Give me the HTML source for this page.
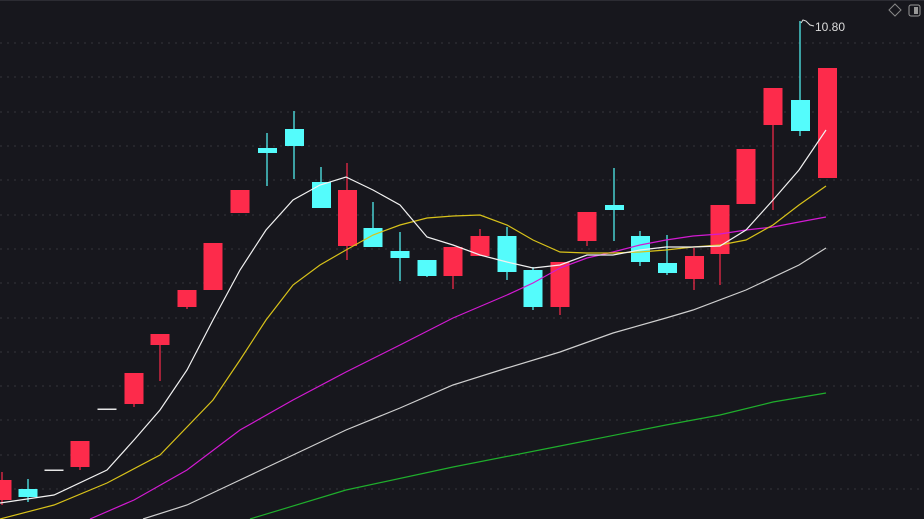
<!DOCTYPE html><html><head><style>body{margin:0;background:#17171d;}svg{display:block}</style></head><body>
<svg width="924" height="519" xmlns="http://www.w3.org/2000/svg">
<rect width="924" height="519" fill="#17171d"/>
<line x1="0" y1="0.5" x2="924" y2="0.5" stroke="#2c2c33"/>
<g stroke="#34343b" stroke-dasharray="2,5">
<line x1="0" y1="43" x2="924" y2="43"/><line x1="0" y1="77" x2="924" y2="77"/><line x1="0" y1="112" x2="924" y2="112"/><line x1="0" y1="146" x2="924" y2="146"/><line x1="0" y1="180" x2="924" y2="180"/><line x1="0" y1="215" x2="924" y2="215"/><line x1="0" y1="249" x2="924" y2="249"/><line x1="0" y1="283" x2="924" y2="283"/><line x1="0" y1="318" x2="924" y2="318"/><line x1="0" y1="352" x2="924" y2="352"/><line x1="0" y1="386" x2="924" y2="386"/><line x1="0" y1="420" x2="924" y2="420"/><line x1="0" y1="455" x2="924" y2="455"/><line x1="0" y1="489" x2="924" y2="489"/>
</g>
<g stroke-width="1.2">
<line x1="2" y1="472" x2="2" y2="505" stroke="#fd2b4b"/><rect x="-7.5" y="480" width="19" height="20" fill="#fd2b4b"/>
<line x1="28" y1="479" x2="28" y2="502" stroke="#54fcfc"/><rect x="18.5" y="489" width="19" height="8" fill="#54fcfc"/>
<rect x="44.5" y="469.5" width="19" height="1.5" fill="#e6e6e6"/>
<line x1="80" y1="441" x2="80" y2="470" stroke="#fd2b4b"/><rect x="70.5" y="441" width="19" height="26" fill="#fd2b4b"/>
<rect x="97.5" y="408.5" width="19" height="1.5" fill="#e6e6e6"/>
<line x1="134" y1="373" x2="134" y2="407" stroke="#fd2b4b"/><rect x="124.5" y="373" width="19" height="31" fill="#fd2b4b"/>
<line x1="160" y1="334" x2="160" y2="381" stroke="#fd2b4b"/><rect x="150.5" y="334" width="19" height="11" fill="#fd2b4b"/>
<line x1="187" y1="290" x2="187" y2="309" stroke="#fd2b4b"/><rect x="177.5" y="290" width="19" height="17" fill="#fd2b4b"/>
<rect x="203.5" y="243" width="19" height="47" fill="#fd2b4b"/>
<rect x="230.5" y="190" width="19" height="23" fill="#fd2b4b"/>
<line x1="267" y1="133" x2="267" y2="186" stroke="#54fcfc"/><rect x="258" y="148" width="19" height="5" fill="#54fcfc"/>
<line x1="294" y1="111" x2="294" y2="179" stroke="#54fcfc"/><rect x="285" y="129" width="19" height="17" fill="#54fcfc"/>
<line x1="321" y1="167" x2="321" y2="208" stroke="#54fcfc"/><rect x="312" y="182" width="19" height="26" fill="#54fcfc"/>
<line x1="347" y1="163" x2="347" y2="260" stroke="#fd2b4b"/><rect x="338" y="190" width="19" height="56" fill="#fd2b4b"/>
<line x1="373" y1="202" x2="373" y2="247" stroke="#54fcfc"/><rect x="363.5" y="228" width="19" height="19" fill="#54fcfc"/>
<line x1="400" y1="232" x2="400" y2="281" stroke="#54fcfc"/><rect x="390.5" y="251" width="19" height="7" fill="#54fcfc"/>
<line x1="427" y1="260" x2="427" y2="277" stroke="#54fcfc"/><rect x="417.5" y="260" width="19" height="16" fill="#54fcfc"/>
<line x1="453" y1="247" x2="453" y2="289" stroke="#fd2b4b"/><rect x="443.5" y="247" width="19" height="29" fill="#fd2b4b"/>
<line x1="480" y1="229" x2="480" y2="256" stroke="#fd2b4b"/><rect x="470.5" y="236" width="19" height="20" fill="#fd2b4b"/>
<line x1="507" y1="227" x2="507" y2="280" stroke="#54fcfc"/><rect x="497.5" y="236" width="19" height="36" fill="#54fcfc"/>
<line x1="533" y1="267" x2="533" y2="310" stroke="#54fcfc"/><rect x="523.5" y="270" width="19" height="37" fill="#54fcfc"/>
<line x1="560" y1="262" x2="560" y2="315" stroke="#fd2b4b"/><rect x="550.5" y="262" width="19" height="45" fill="#fd2b4b"/>
<line x1="587" y1="212" x2="587" y2="246" stroke="#fd2b4b"/><rect x="577.5" y="212" width="19" height="29" fill="#fd2b4b"/>
<line x1="614" y1="168" x2="614" y2="241" stroke="#54fcfc"/><rect x="605" y="205" width="19" height="5" fill="#54fcfc"/>
<line x1="640" y1="231" x2="640" y2="266" stroke="#54fcfc"/><rect x="631" y="236" width="19" height="26" fill="#54fcfc"/>
<line x1="667" y1="235" x2="667" y2="275" stroke="#54fcfc"/><rect x="658" y="263" width="19" height="10" fill="#54fcfc"/>
<line x1="694" y1="248" x2="694" y2="290" stroke="#fd2b4b"/><rect x="685" y="256" width="19" height="23" fill="#fd2b4b"/>
<line x1="720" y1="205" x2="720" y2="285" stroke="#fd2b4b"/><rect x="710.5" y="205" width="19" height="49" fill="#fd2b4b"/>
<rect x="736.5" y="149" width="19" height="55" fill="#fd2b4b"/>
<line x1="773" y1="88" x2="773" y2="210" stroke="#fd2b4b"/><rect x="763.5" y="88" width="19" height="37" fill="#fd2b4b"/>
<line x1="800" y1="21" x2="800" y2="136" stroke="#54fcfc"/><rect x="791" y="100" width="19" height="31" fill="#54fcfc"/>
<rect x="818" y="68" width="19" height="110" fill="#fd2b4b"/>
</g>
<g fill="none" stroke-width="1.2">
<polyline stroke="#1fae2c" points="250,519 346,490 453,467 560,446 666,425 720,415 773,402 826,393"/>
<polyline stroke="#cfcfcf" points="143,519 187,505 240,480 293,455 346,430 400,408 453,385 507,368 560,352 613,333 666,318 693,310 746,290 799,265 826,248"/>
<polyline stroke="#d21ad2" points="90,519 134,500 187,470 240,430 293,400 346,372 400,345 453,318 507,295 533,283 560,268 587,258 613,252 640,245 666,240 693,236 720,234 746,230 773,227 799,222 826,217"/>
<polyline stroke="#d8c21a" points="0,519 54,505 107,483 160,455 213,400 240,360 266,320 293,285 320,265 346,250 373,235 400,225 427,218 453,216 480,215 507,225 533,240 560,252 587,253 613,253 640,252 666,250 693,247 720,245 746,240 773,225 799,205 826,186"/>
<polyline stroke="#f2f2f2" points="0,503 54,495 107,470 134,440 160,410 187,370 213,320 240,270 266,230 293,200 320,185 346,177 373,190 400,205 427,237 453,245 480,255 507,262 533,268 560,265 587,255 613,255 640,250 666,247 693,247 720,246 746,230 773,200 799,170 826,130"/>
</g>
<polyline points="801,23 803,20 806,21 810,25 814,26" fill="none" stroke="#ddd"/>
<text x="815" y="31" fill="#dcdcdc" font-family="Liberation Sans, sans-serif" font-size="12">10.80</text>
<path d="M895,4 L901,10 L895,16 L889,10 Z" fill="none" stroke="#888"/>
<rect x="909" y="5" width="11" height="11" rx="2" fill="none" stroke="#999"/><rect x="914" y="7" width="4" height="7" fill="#999"/>
</svg></body></html>
